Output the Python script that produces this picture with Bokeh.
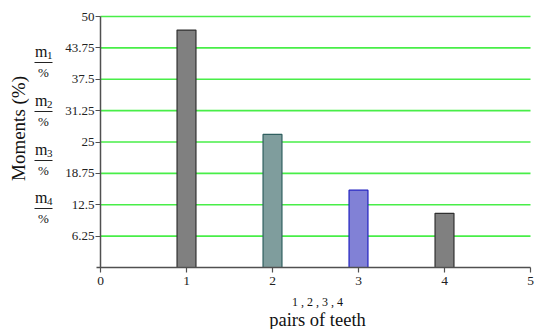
from bokeh.plotting import figure
from bokeh.models import Range1d, FixedTicker
from bokeh.core.properties import value
from bokeh.embed import file_html
from bokeh.resources import INLINE

# data
pairs = [1, 2, 3, 4]
moments = [47.3, 26.5, 15.4, 10.8]
fill_colors = ["#808080", "#7f9d9d", "#8181d6", "#808080"]
line_colors = ["#303030", "#2f5f5f", "#2020c0", "#303030"]
y_ticks = [6.25, 12.5, 18.75, 25, 31.25, 37.5, 43.75, 50]
x_ticks = [0, 1, 2, 3, 4, 5]
m_labels = ["1", "2", "3", "4"]

SERIF = "Liberation Serif"
W, H = 537, 329
X0, PXX = 100, 86.0    # pixel of x=0, pixels per x unit
Y50, PXY = 16, 5.02    # pixel of y=50, pixels per y unit

def dx(px):
    return (px - X0) / PXX

def dy(py):
    return 50 - (py - Y50) / PXY

p = figure(width=W, height=H, output_backend="svg", toolbar_location=None,
           x_range=Range1d(dx(0), dx(W)), y_range=Range1d(dy(H), dy(0)),
           min_border=0)
p.outline_line_color = None
p.background_fill_color = "white"
p.grid.visible = False

# horizontal green grid lines limited to the x extent of the axis
p.segment(x0=[x_ticks[0]] * len(y_ticks), y0=y_ticks, x1=[x_ticks[-1]] * len(y_ticks), y1=y_ticks,
          line_color="#48ee48", line_width=1.6)

p.vbar(x=pairs, top=moments, width=0.22, fill_color=fill_colors, line_color=line_colors, line_width=1.2)

for ax in (p.xaxis, p.yaxis):
    ax.fixed_location = 0
    ax.axis_line_color = "#505050"
    ax.axis_line_width = 1.5
    ax.major_tick_line_color = "#505050"
    ax.major_tick_line_width = 1.2
    ax.minor_tick_line_color = None
    ax.major_tick_in = 0
    ax.major_tick_out = 5
    ax.major_label_text_font = SERIF
    ax.major_label_text_font_size = "13px"
    ax.major_label_text_color = "#222222"
    ax.major_label_standoff = 4

p.yaxis.ticker = FixedTicker(ticks=y_ticks)
p.yaxis.bounds = (0, 50)
p.yaxis.major_label_standoff = 1
p.xaxis.ticker = FixedTicker(ticks=x_ticks)
p.xaxis.bounds = (-0.05, 5)
p.xaxis.major_label_text_font_size = "13.5px"

tf = value(SERIF)
# y axis title
p.text(x=[dx(18)], y=[dy(128)], text=["Moments (%)"], angle=1.5708,
       text_font=tf, text_font_size="19px", text_color="#111111",
       text_align="center", text_baseline="middle")

# m_i / % stacked labels
line_rows = [62, 111, 160, 208]
for lab, row in zip(m_labels, line_rows):
    p.text(x=[dx(34.5)], y=[dy(row - 11)], text=["m"], text_font=tf, text_font_size="16px",
           text_color="#111111", text_align="left", text_baseline="middle")
    p.text(x=[dx(46.5)], y=[dy(row - 7)], text=[lab], text_font=tf, text_font_size="11px",
           text_color="#111111", text_align="left", text_baseline="middle")
    p.segment(x0=[dx(34)], y0=[dy(row)], x1=[dx(52)], y1=[dy(row)], line_color="#222222", line_width=1.2)
    p.text(x=[dx(43)], y=[dy(row + 10)], text=["%"], text_font=tf, text_font_size="13px",
           text_color="#111111", text_align="center", text_baseline="middle")

# x axis titles
p.text(x=[dx(317)], y=[dy(301)], text=["1 , 2 , 3 , 4"], text_font=tf, text_font_size="12px",
       text_color="#111111", text_align="center", text_baseline="middle")
p.text(x=[dx(317)], y=[dy(319)], text=["pairs of teeth"], text_font=tf, text_font_size="18.5px",
       text_color="#111111", text_align="center", text_baseline="middle")

open("out.html", "w").write(file_html(p, INLINE))
